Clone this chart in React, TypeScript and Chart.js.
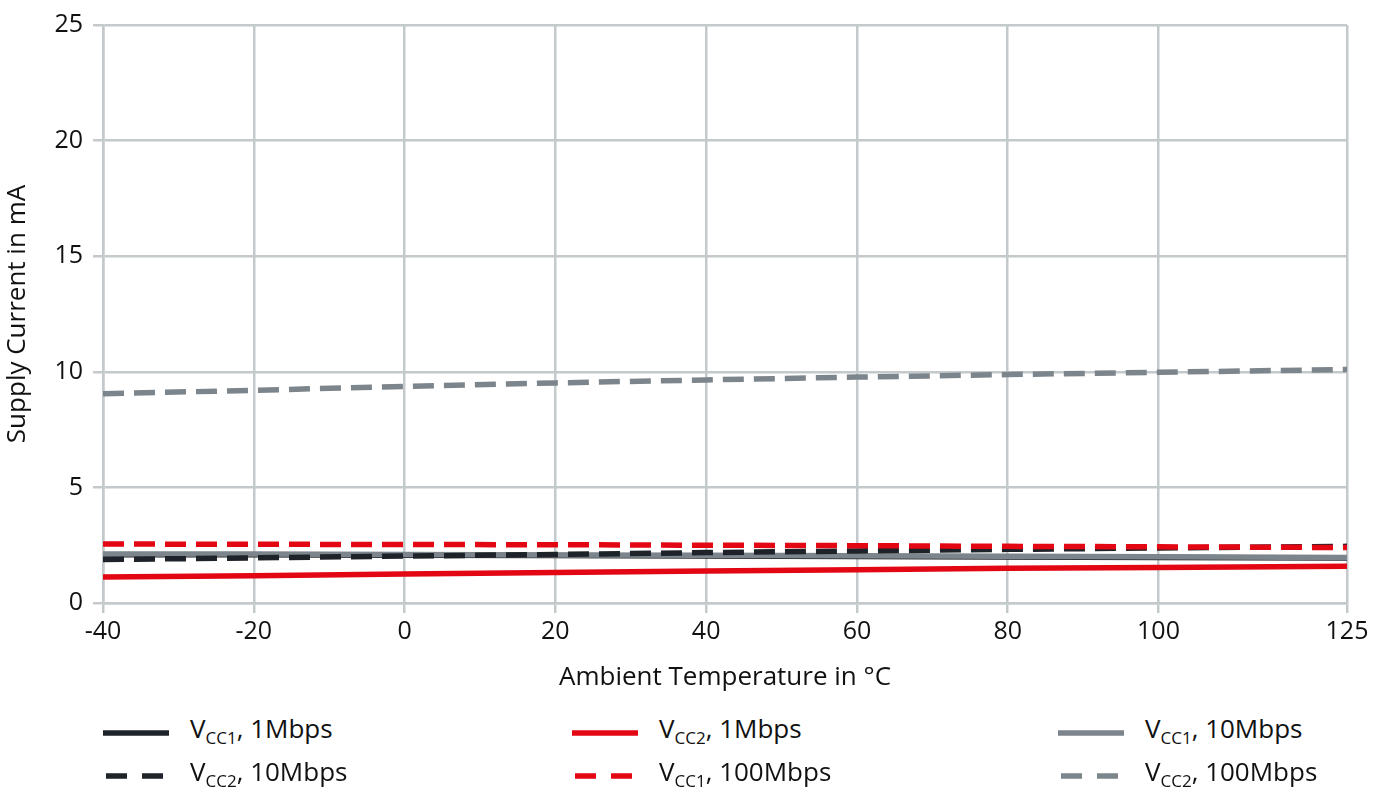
import React, { useEffect, useRef } from "react";
import { Chart, registerables } from "chart.js";

Chart.register(...registerables);

const temps = [-40, -20, 0, 20, 40, 60, 80, 100, 125];
const xTickValues = [-40, -20, 0, 20, 40, 60, 80, 100, 125];
const yTickValues = [0, 5, 10, 15, 20, 25];

const vcc1_1M = [2.09, 2.09, 2.07, 2.05, 2.03, 2.01, 1.99, 1.97, 1.95];
const vcc2_10M = [1.88, 1.95, 2.03, 2.1, 2.18, 2.25, 2.32, 2.38, 2.45];
const vcc2_1M = [1.12, 1.18, 1.25, 1.32, 1.38, 1.44, 1.5, 1.54, 1.59];
const vcc1_100M = [2.55, 2.54, 2.53, 2.52, 2.5, 2.48, 2.45, 2.43, 2.4];
const vcc1_10M = [2.12, 2.12, 2.1, 2.08, 2.06, 2.04, 2.02, 2.0, 1.97];
const vcc2_100M = [9.05, 9.2, 9.37, 9.52, 9.65, 9.77, 9.88, 9.98, 10.1];

const DARK = "#1e2329";
const RED = "#e30613";
const GRAY = "#7c858b";
const GRID = "#c4c9cb";
const FONT = "'Open Sans', 'Noto Sans', sans-serif";

type Series = { sub: string; rate: string; data: number[]; color: string; dashed: boolean; order: number };

const series: Series[] = [
  { sub: "CC1", rate: "1Mbps", data: vcc1_1M, color: DARK, dashed: false, order: 6 },
  { sub: "CC2", rate: "1Mbps", data: vcc2_1M, color: RED, dashed: false, order: 3 },
  { sub: "CC1", rate: "10Mbps", data: vcc1_10M, color: GRAY, dashed: false, order: 5 },
  { sub: "CC2", rate: "10Mbps", data: vcc2_10M, color: DARK, dashed: true, order: 2 },
  { sub: "CC1", rate: "100Mbps", data: vcc1_100M, color: RED, dashed: true, order: 1 },
  { sub: "CC2", rate: "100Mbps", data: vcc2_100M, color: GRAY, dashed: true, order: 4 },
];

const legendCols = [103, 572, 1058];
const legendRows = [733, 776];

export default function App() {
  const ref = useRef<HTMLCanvasElement>(null);
  useEffect(() => {
    const ctx = ref.current!.getContext("2d")!;
    const chart = new Chart(ctx, {
      type: "line",
      data: {
        datasets: series.map((s) => ({
          label: `V${s.sub}, ${s.rate}`,
          data: temps.map((t, i) => ({ x: t, y: s.data[i] })),
          borderColor: s.color,
          backgroundColor: s.color,
          borderWidth: 5.5,
          borderDash: s.dashed ? [21, 10] : [],
          pointRadius: 0,
          tension: 0,
          order: s.order,
        })),
      },
      options: {
        animation: false,
        responsive: false,
        maintainAspectRatio: false,
        layout: { padding: { top: 20, right: 40, left: 0, bottom: 7 } },
        plugins: { legend: { display: false }, tooltip: { enabled: false } },
        scales: {
          x: {
            type: "linear",
            min: -40,
            max: 125,
            afterBuildTicks: (axis: any) => {
              axis.ticks = xTickValues.map((v) => ({ value: v }));
            },
            afterFit: (axis: any) => {
              axis.height = 90;
            },
            grid: { color: GRID, lineWidth: 2.5, tickLength: 10, drawTicks: true },
            border: { color: GRID, width: 2.5 },
            ticks: { color: "#111", font: { family: FONT, size: 25 }, padding: 4, maxRotation: 0, autoSkip: false },
            title: {
              display: true,
              text: "Ambient Temperature in °C",
              color: "#111",
              font: { family: FONT, size: 26 },
              padding: { top: 0, bottom: 0 },
            },
          },
          y: {
            min: 0,
            max: 25,
            afterBuildTicks: (axis: any) => {
              axis.ticks = yTickValues.map((v) => ({ value: v }));
            },
            afterFit: (axis: any) => {
              axis.width = 103;
            },
            grid: { color: GRID, lineWidth: 2.5, tickLength: 10 },
            border: { color: GRID, width: 2.5 },
            ticks: { color: "#111", font: { family: FONT, size: 25 }, padding: 10 },
            title: {
              display: true,
              text: "Supply Current in mA",
              color: "#111",
              font: { family: FONT, size: 26 },
              padding: { top: 2, bottom: 2 },
            },
          },
        },
      },
    });
    return () => chart.destroy();
  }, []);

  return (
    <div style={{ position: "fixed", left: 0, top: 0, width: 1387, height: 793, background: "#fff", fontFamily: FONT }}>
      <canvas ref={ref} width={1387} height={700} style={{ position: "absolute", left: 0, top: 0, width: 1387, height: 700 }} />
      {series.map((s, i) => {
        const col = i % 3;
        const row = Math.floor(i / 3);
        const x = legendCols[col];
        const y = legendRows[row];
        return (
          <div key={i} style={{ position: "absolute", left: x, top: y - 20, height: 40, display: "flex", alignItems: "center" }}>
            <svg width={66} height={10} style={{ display: "block" }}>
              <line
                x1={s.dashed ? 3 : 0}
                y1={5}
                x2={s.dashed ? 62 : 66}
                y2={5}
                stroke={s.color}
                strokeWidth={5.5}
                strokeDasharray={s.dashed ? "21 15" : undefined}
              />
            </svg>
            <span style={{ marginLeft: 21, fontSize: 26, color: "#111", whiteSpace: "nowrap", lineHeight: "40px" }}>
              V<sub style={{ fontSize: 17, verticalAlign: "-6px" }}>{s.sub}</sub>, {s.rate}
            </span>
          </div>
        );
      })}
    </div>
  );
}
